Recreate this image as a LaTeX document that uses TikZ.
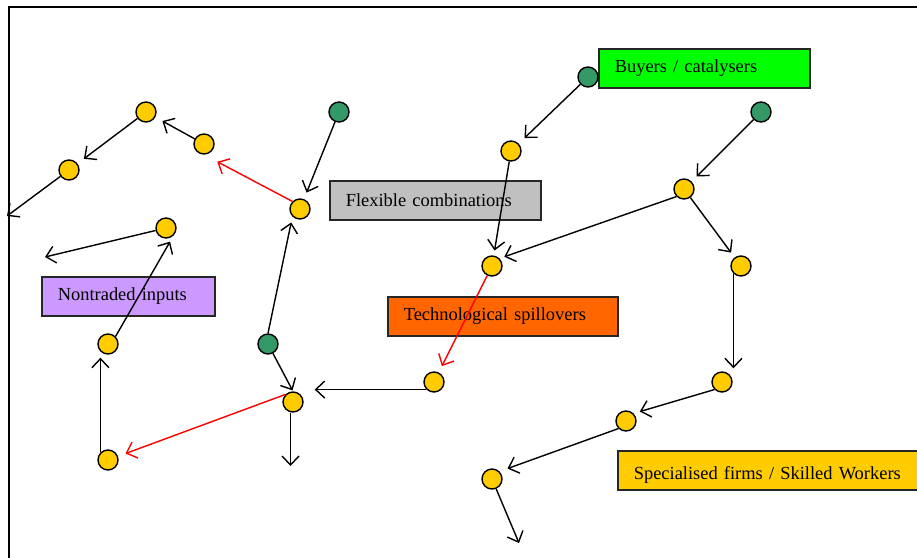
\documentclass[tikz,border=0pt]{standalone}
\usepackage{fontspec}
\setmainfont{Liberation Serif}
\usetikzlibrary{arrows.meta}
\definecolor{firmyellow}{HTML}{FFCC00}
\definecolor{hubgreen}{HTML}{339966}
\definecolor{buyergreen}{HTML}{00FF00}
\definecolor{flexgray}{HTML}{C0C0C0}
\definecolor{inputlilac}{HTML}{CC99FF}
\definecolor{techorange}{HTML}{FF6600}
\tikzset{
    firm/.style={
        circle, draw=black, line width=0.8pt,
        minimum size=0.4cm, inner sep=0pt,
        fill=firmyellow
    },
    hub/.style={
        circle, draw=black, line width=0.8pt,
        minimum size=0.4cm, inner sep=0pt,
        fill=hubgreen
    },
    tagbox/.style={
        rectangle, draw=black!85, line width=0.9pt,
        anchor=north west, align=left,
        inner xsep=0.32cm, inner ysep=0pt,
        minimum height=0.78cm,
        font=\fontsize{10.5}{12}\selectfont
    },
    link/.style={draw=black, line width=0.8pt, -{Straight Barb[length=1.8mm, width=3.4mm]}},
    spill/.style={link, draw=red}
}

\begin{document}
\begin{tikzpicture}[x=0.02cm, y=-0.02cm]

\useasboundingbox (0,0) rectangle (917,558);

% Frame
\draw[line width=1.2pt] (9,570) -- (9,7) -- (930,7);

% Labels
\node[tagbox, fill=buyergreen, text width=3.58cm] (buyers) at (598,48) {Buyers / catalysers};
\node[tagbox, fill=flexgray, text width=3.58cm] (flex) at (329,180) {Flexible combinations};
\node[tagbox, fill=inputlilac, text width=2.82cm] (nontraded) at (41,276) {Nontraded inputs};
\node[tagbox, fill=techorange, text width=3.96cm] (tech) at (387,296) {Technological spillovers};
\node[tagbox, fill=firmyellow, text width=5.82cm] (special) at (617,450) {\raisebox{-0.1cm}[\height][\depth]{Specialised firms / Skilled Workers}};

% Left cluster
\node[firm] (a1) at (146,112) {};
\node[firm] (a2) at (204,144) {};
\node[firm] (a3) at (69,170) {};
\node[hub]  (g1) at (339,112) {};
\node[firm] (f1) at (300,209) {};
\node[firm] (b1) at (166,228) {};
\node[firm] (b2) at (108,344) {};
\node[hub]  (g2) at (268,344) {};
\node[firm] (c1) at (293,402) {};
\node[firm] (b3) at (108,460) {};
\node[firm] (t1) at (434,382) {};

% Right cluster
\node[hub]  (g3) at (588,77) {};
\node[firm] (d1) at (511,151) {};
\node[hub]  (g4) at (761,112) {};
\node[firm] (e1) at (684,189) {};
\node[firm] (d2) at (492,266) {};
\node[firm] (e2) at (741,266) {};
\node[firm] (e3) at (722,382) {};
\node[firm] (e4) at (626,421) {};
\node[firm] (e5) at (492,479) {};

% Loose ends
\coordinate (a3out) at (7,216);
\coordinate (b1out) at (45,257);
\coordinate (c1out) at (290.5,466);
\coordinate (e5out) at (519,543);

% Left connections
\draw[link, shorten >=0.16cm] (a2) -- (a1);
\draw[link, shorten >=0.16cm] (a1) -- (a3);
\draw[link] (a3) -- (a3out);
\draw[spill, shorten >=0.3cm] (f1.north west) -- (a2.south);
\draw[link, shorten >=0.14cm] (g1) -- (f1);
\draw[link] (b1) -- (b1out);
\draw[link, shorten >=0.14cm] (b2.north east) -- (b1.south east);
\draw[link, shorten >=0.06cm] (b3.north west) -- (b3.north west |- b2.south);
\draw[spill, shorten >=0.16cm] (c1.north west) -- (b3);
\draw[link, shorten >=0.02cm] (g2) -- (c1.north);
\draw[link, shorten >=0.12cm] (g2.north) -- (f1.south west);
\draw[link, shorten >=0.22cm] (t1.south west) -- (t1.south west -| c1.east);
\draw[link] (c1.south -| c1out) -- (c1out);

% Right connections
\draw[link, shorten >=0.16cm] (g3) -- (d1);
\draw[link, shorten >=0.1cm] (d1) -- (d2);
\draw[link, shorten >=0.1cm] (e1.south west) -- (d2.north east);
\draw[link, shorten >=0.14cm] (g4) -- (e1);
\draw[link, shorten >=0.12cm] (e1) -- (e2);
\draw[link, shorten >=0.06cm] (e2.south west) -- (e2.south west |- e3.north);
\draw[spill, shorten >=0.14cm] (d2) -- (t1);
\draw[link, shorten >=0.13cm] (e3.south west) -- (e4.north east);
\draw[link, shorten >=0.17cm] (e4.south west) -- (e5.north east);
\draw[link] (e5) -- (e5out);

\end{tikzpicture}
\end{document}
